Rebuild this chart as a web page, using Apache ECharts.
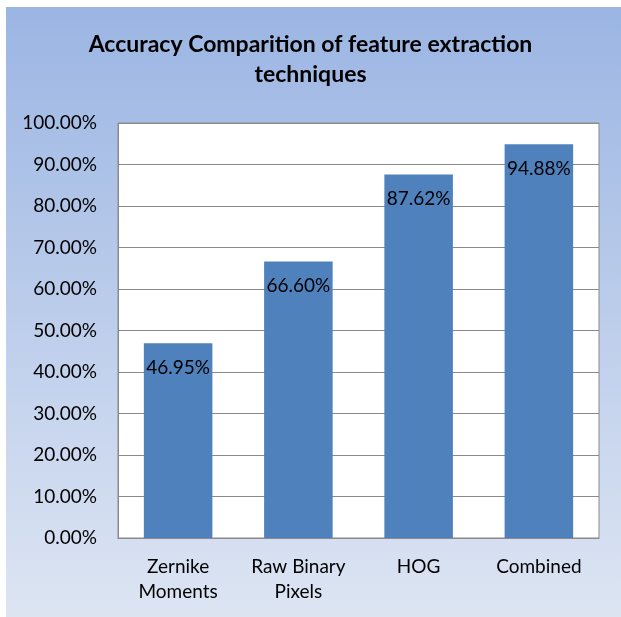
<!DOCTYPE html>
<html>
<head>
<meta charset="utf-8">
<script src="https://cdn.jsdelivr.net/npm/echarts@6/dist/echarts.min.js"></script>
<style>
html,body{margin:0;padding:0;background:#fff;}
#c{width:621px;height:617px;}
</style>
</head>
<body>
<div id="c"></div>
<script>
var categories = ['Zernike\nMoments', 'Raw Binary\nPixels', 'HOG', 'Combined'];
var accuracy = [46.95, 66.60, 87.62, 94.88];
var yTicks = [0, 10, 20, 30, 40, 50, 60, 70, 80, 90, 100];

var chart = echarts.init(document.getElementById('c'));
var font = 'Lato, "Open Sans", sans-serif';
chart.setOption({
  backgroundColor: '#ffffff',
  animation: false,
  graphic: [{
    type: 'rect', z: -10, silent: true,
    shape: {x: 6, y: 7, width: 615, height: 610},
    style: {fill: new echarts.graphic.LinearGradient(0, 0, 0, 1, [
      {offset: 0, color: '#9bb5e3'},
      {offset: 1, color: '#dde5f3'}
    ])}
  }],
  title: {
    text: 'Accuracy Comparition of feature extraction\ntechniques',
    left: 'center',
    top: 25,
    textStyle: {fontFamily: font, fontSize: 23, fontWeight: 'bold', color: '#000', lineHeight: 30}
  },
  grid: {left: 118, top: 123, right: 22, bottom: 79, show: true, backgroundColor: '#ffffff', borderColor: '#8a8a8a', borderWidth: 1},
  xAxis: {
    type: 'category',
    data: categories,
    axisLine: {lineStyle: {color: '#8a8a8a'}},
    axisTick: {show: false},
    axisLabel: {fontFamily: font, fontSize: 19, color: '#000', lineHeight: 25, margin: 16, interval: 0}
  },
  yAxis: {
    type: 'value',
    min: yTicks[0], max: yTicks[yTicks.length - 1], interval: 10,
    axisLine: {show: true, lineStyle: {color: '#8a8a8a'}},
    axisTick: {show: false},
    splitLine: {lineStyle: {color: '#8a8a8a', width: 1}},
    axisLabel: {fontFamily: font, fontSize: 19, color: '#000', margin: 21,
      formatter: function (v) { return v.toFixed(2) + '%'; }}
  },
  series: [{
    type: 'bar',
    data: accuracy,
    barWidth: '57%',
    itemStyle: {color: '#4f81bd'},
    label: {
      show: true, position: 'insideTop', distance: 15,
      fontFamily: font, fontSize: 19, color: '#000',
      formatter: function (p) { return p.value.toFixed(2) + '%'; }
    }
  }]
});
</script>
</body>
</html>
